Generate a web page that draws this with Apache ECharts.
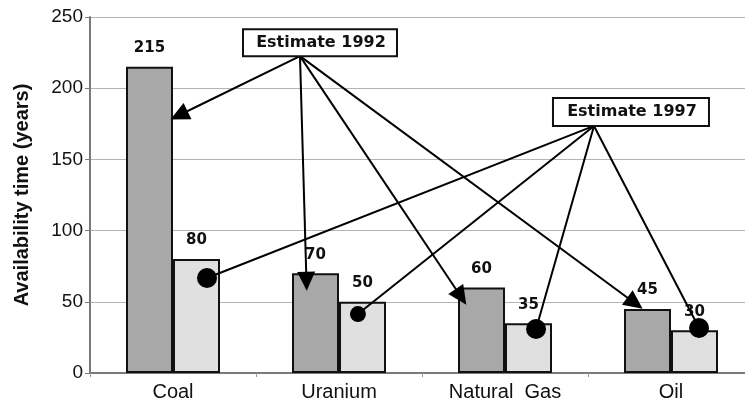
<!DOCTYPE html>
<html>
<head>
<meta charset="utf-8">
<script src="https://cdn.jsdelivr.net/npm/echarts@6/dist/echarts.min.js"></script>
<style>
  html, body { margin: 0; padding: 0; background: #fff; }
  #chart { width: 745px; height: 401px; }
</style>
</head>
<body>
<div id="chart"></div>
<script>
// Resource availability (years), two estimates per resource
const categories = ['Coal', 'Uranium', 'Natural  Gas', 'Oil'];
const estimate1992 = [215, 70, 60, 45];
const estimate1997 = [80, 50, 35, 30];
const yTicks = [0, 50, 100, 150, 200, 250];

// Callout anchors in data units: [category position, years]
const note1992Anchor = [0.765, 222.5];
const note1992Targets = [[0.036, 181], [0.804, 64.5], [1.735, 53.5], [2.783, 49]];
const note1997Anchor = [2.536, 173.5];
const note1997Targets = [[0.205, 66.7], [1.114, 41.4], [2.187, 30.9], [3.169, 31.6]];

const dotDiameters = [20, 16, 20, 20];
const axisFont = 'Liberation Sans, Arial, sans-serif';
const boldFont = 'DejaVu Sans, sans-serif';

const chart = echarts.init(document.getElementById('chart'), null, { renderer: 'canvas' });

const barLabel = {
  show: true,
  position: 'top',
  distance: 11,
  fontFamily: boldFont,
  fontWeight: 'bold',
  fontSize: 15,
  color: '#111'
};

function arrowLines(anchor, targets, endSymbol) {
  return targets.map(t => [
    { coord: anchor, symbol: 'none' },
    { coord: t, symbol: endSymbol }
  ]);
}

chart.setOption({
  animation: false,
  grid: {
    left: 90, top: 17, bottom: 28, width: 664,
    containLabel: false,
    outerBoundsMode: 'none'
  },
  xAxis: [
    {
      type: 'category',
      data: categories,
      axisLine: { lineStyle: { color: '#7a7a7a', width: 2 } },
      axisTick: { show: true, length: 4, lineStyle: { color: '#999' } },
      axisLabel: { fontFamily: axisFont, fontSize: 20, color: '#111', margin: 9 }
    },
    {
      type: 'value', min: -0.5, max: 3.5, show: false
    }
  ],
  yAxis: {
    type: 'value',
    min: yTicks[0],
    max: yTicks[yTicks.length - 1],
    interval: yTicks[1] - yTicks[0],
    name: 'Availability time (years)',
    nameLocation: 'middle',
    nameGap: 58,
    nameTextStyle: { fontFamily: axisFont, fontWeight: 'bold', fontSize: 20, color: '#111' },
    axisLine: { show: true, onZero: false, lineStyle: { color: '#7a7a7a', width: 2 } },
    axisTick: { show: true, length: 5, lineStyle: { color: '#7a7a7a' } },
    axisLabel: { fontFamily: axisFont, fontSize: 19, color: '#111', margin: 7 },
    splitLine: { lineStyle: { color: '#b4b4b4', width: 1 } }
  },
  series: [
    {
      name: 'Estimate 1992',
      type: 'bar',
      data: estimate1992,
      barWidth: 47,
      barGap: '0%',
      itemStyle: { color: '#a8a8a8', borderColor: '#111', borderWidth: 2 },
      label: barLabel,
      z: 2
    },
    {
      name: 'Estimate 1997',
      type: 'bar',
      data: estimate1997,
      barWidth: 47,
      itemStyle: { color: '#e0e0e0', borderColor: '#111', borderWidth: 2 },
      label: barLabel,
      z: 2
    },
    {
      // Dots marking the 1997 estimates, with the callout lines from both notes
      type: 'scatter',
      xAxisIndex: 1,
      data: note1997Targets,
      symbol: 'circle',
      symbolSize: (v, p) => dotDiameters[p.dataIndex],
      itemStyle: { color: '#000', opacity: 1 },
      z: 5,
      markLine: {
        silent: true,
        animation: false,
        label: { show: false },
        lineStyle: { color: '#000', width: 2, type: 'solid' },
        symbolSize: [18, 19],
        data: arrowLines(note1992Anchor, note1992Targets, 'triangle')
          .concat(arrowLines(note1997Anchor, note1997Targets, 'none'))
      }
    }
  ]
});

// Note boxes sit on top of the point where their lines meet
function noteBox(anchor, text, offsetLeft, w, h) {
  const p = chart.convertToPixel({ xAxisIndex: 1, yAxisIndex: 0 }, anchor);
  const left = p[0] - offsetLeft;
  const top = p[1] - h;
  return {
    type: 'group',
    z: 100,
    children: [
      {
        type: 'rect',
        shape: { x: left, y: top, width: w, height: h },
        style: { fill: '#fff', stroke: '#111', lineWidth: 2 },
        z: 100
      },
      {
        type: 'text',
        x: left + w / 2 + 1,
        y: top + h / 2,
        style: {
          text: text,
          fontFamily: boldFont,
          fontWeight: 'bold',
          fontSize: 16,
          fill: '#111',
          align: 'center',
          verticalAlign: 'middle'
        },
        z: 101
      }
    ]
  };
}

chart.setOption({
  graphic: [
    noteBox(note1992Anchor, 'Estimate 1992', 57, 154, 27),
    noteBox(note1997Anchor, 'Estimate 1997', 41, 156, 28)
  ]
});
</script>
</body>
</html>
